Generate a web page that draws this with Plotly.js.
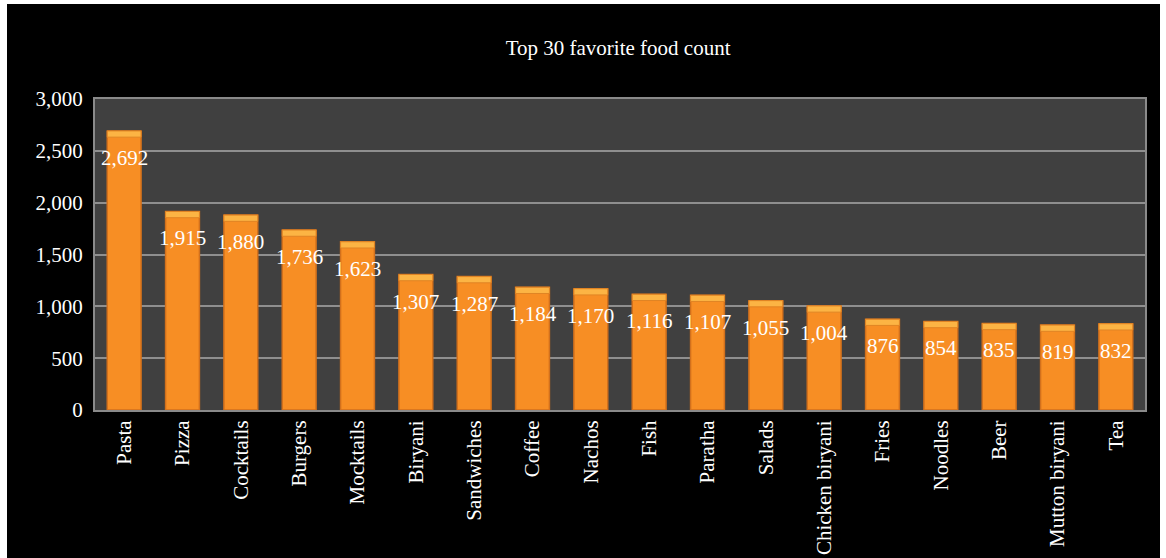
<!DOCTYPE html>
<html>
<head>
<meta charset="utf-8">
<script src="https://cdn.plot.ly/plotly-3.0.1.min.js"></script>
<style>
html,body{margin:0;padding:0;background:#ffffff;}
#chart{position:absolute;left:7px;top:4px;width:1153px;height:554px;}
</style>
</head>
<body>
<div id="chart"></div>
<script>
var foods = ["Pasta","Pizza","Cocktails","Burgers","Mocktails","Biryani","Sandwiches","Coffee","Nachos","Fish","Paratha","Salads","Chicken biryani","Fries","Noodles","Beer","Mutton biryani","Tea"];
var counts = [2692,1915,1880,1736,1623,1307,1287,1184,1170,1116,1107,1055,1004,876,854,835,819,832];
var yTicks = [0,500,1000,1500,2000,2500,3000];

var serif = "'Liberation Serif', 'Times New Roman', serif";
var capH = 60;

var bars = {
  type: "bar",
  x: foods,
  y: counts,
  marker: {color: "#F78E24", line: {color: "#D2701C", width: 1.5}},
  hoverinfo: "x+y"
};
var caps = {
  type: "bar",
  x: foods,
  y: counts.map(function(){return capH;}),
  base: counts.map(function(v){return v - capH;}),
  marker: {color: "#FCB444", line: {color: "#E08424", width: 1}},
  hoverinfo: "skip"
};

var annotations = foods.map(function(f, i){
  return {
    x: f, y: counts[i], xref: "x", yref: "y",
    text: counts[i].toLocaleString("en-US"),
    showarrow: false, yanchor: "middle", yshift: -27,
    font: {family: serif, size: 21, color: "#ffffff"}
  };
});

var layout = {
  paper_bgcolor: "#000000",
  plot_bgcolor: "#404040",
  margin: {l: 88, r: 15, t: 95, b: 148},
  title: {text: "Top 30 favorite food count", font: {family: serif, size: 21, color: "#ffffff"}, x: 0.53, xanchor: "center", y: 0.922, yanchor: "middle"},
  barmode: "overlay",
  bargap: 0.42,
  showlegend: false,
  xaxis: {
    tickangle: -90,
    tickfont: {family: serif, size: 21, color: "#ffffff"},
    showline: true, linecolor: "#8a8a8a", linewidth: 2, mirror: true,
    ticks: "", showgrid: false
  },
  yaxis: {
    range: [0, 3000],
    tickvals: yTicks,
    ticktext: yTicks.map(function(v){return v.toLocaleString("en-US");}),
    tickfont: {family: serif, size: 21, color: "#ffffff"},
    ticklabelstandoff: 6,
    showgrid: true, gridcolor: "#8f8f8f", gridwidth: 1.5,
    showline: true, linecolor: "#8a8a8a", linewidth: 2, mirror: true,
    zeroline: false, ticks: "", ticklen: 0
  },
  annotations: annotations
};

Plotly.newPlot("chart", [bars, caps], layout, {displayModeBar: false, responsive: false});
</script>
</body>
</html>
